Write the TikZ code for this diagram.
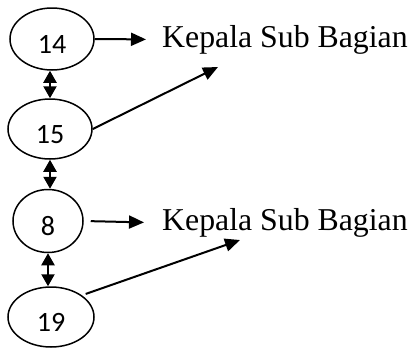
\documentclass[tikz,border=0pt]{standalone}
\usepackage{fontspec}
\setmainfont{Liberation Serif}
\newfontfamily\angkafont{Carlito}
\usetikzlibrary{shapes.geometric,arrows.meta}
\tikzstyle{level} = [ellipse, draw, line width=1.5pt, inner sep=0pt,
    font=\angkafont\fontsize{28}{30}\selectfont, text height=28pt, text depth=0pt]
\tikzstyle{jabatan} = [inner sep=0pt, anchor=base west,
    font=\fontsize{31.8}{34}\selectfont]
\tikzstyle{link} = [draw, line width=2.2pt,
    {Triangle[length=12pt,width=13pt]}-{Triangle[length=12pt,width=13pt]}]
\tikzstyle{line} = [draw, line width=2pt, -{Triangle[length=15pt,width=13pt]}]

\begin{document}
\begin{tikzpicture}[x=1pt, y=-1pt]
  \useasboundingbox (0,0) rectangle (410,349);
  \node [level, minimum width=84pt, minimum height=62pt] (n14) at (52,39) {14};
  \node [level, minimum width=84pt, minimum height=60pt] (n15) at (50,129) {15};
  \node [level, minimum width=70pt, minimum height=63pt] (n8) at (48,221) {8};
  \node [level, minimum width=86pt, minimum height=60pt] (n19) at (51,317) {19};
  \node [jabatan] (kasub1) at (162,47) {Kepala Sub Bagian};
  \node [jabatan] (kasub2) at (162,230) {Kepala Sub Bagian};
  \coordinate (tip1) at (218,67);
  \coordinate (tip2) at (240,240);
  % hubungan antar level
  \path [link] (n15.north |- n14.south) -- (n15.north);
  \path [link] (n15.south) -- (n15.south |- n8.north);
  \path [link] (n8.south) -- (n8.south |- n19.north);
  % ke kepala sub bagian
  \path [line] (n14.east) -- ([xshift=-16pt]kasub1.west);
  \path [line] (n15.east) -- (tip1);
  \path [line, shorten <=7pt] (n8.east) -- ([xshift=-18pt]kasub2.west);
  \path [line, shorten <=4pt] (n19.north east) -- (tip2);
\end{tikzpicture}
\end{document}
